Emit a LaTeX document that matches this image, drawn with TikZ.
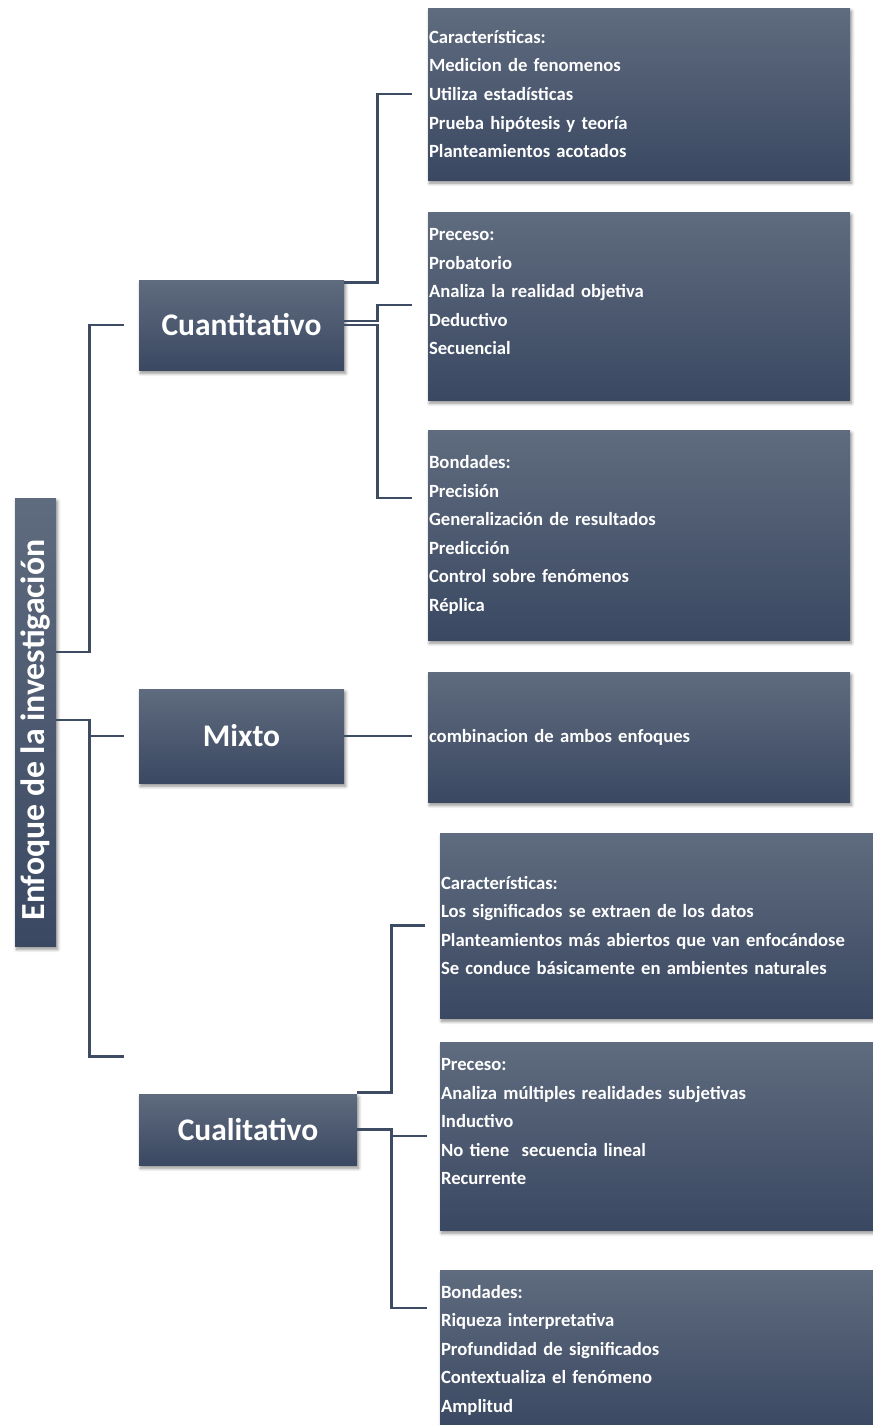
\documentclass[tikz,border=0pt]{standalone}
\usepackage{fontspec}
\setmainfont{Carlito}
\usetikzlibrary{calc,shadows.blur}

\definecolor{boxtop}{RGB}{95,107,126}
\definecolor{boxbot}{RGB}{58,72,98}
\definecolor{linkc}{RGB}{61,75,99}

\begin{document}
\begin{tikzpicture}[x=0.75pt,y=-0.75pt,
  box/.style={rectangle, top color=boxtop, bottom color=boxbot, text=white,
    blur shadow={shadow xshift=1.2pt, shadow yshift=-2.4pt, shadow blur radius=2.4pt,
      shadow blur steps=6, shadow opacity=45}},
  rootbox/.style={box, inner sep=0pt, minimum width=30.75pt, minimum height=336pt,
    font=\fontsize{25.3}{28}\selectfont\bfseries},
  headbox/.style={box, minimum width=153.75pt, font=\fontsize{23.6}{28}\selectfont\bfseries},
  infobox/.style={box, align=left, inner xsep=0.75pt, text width=#1,
    font=\fontsize{14}{21.4}\selectfont\bfseries},
  link/.style={draw=linkc, line width=1.9pt}]
  \useasboundingbox (0,0) rectangle (872,1425);

  % main boxes
  \node[rootbox] (root) at (35.5,722) {\rotatebox{90}{Enfoque de la investigación\kern12pt}};
  \node[headbox, minimum height=67.5pt] (cuan) at (241.5,325) {Cuantitativo};
  \node[headbox, minimum height=70.5pt] (mixto) at (241.5,736) {Mixto};
  \node[headbox, minimum width=163.5pt, minimum height=53.25pt] (cual) at (248,1129.5) {Cualitativo};

  % cuantitativo
  \node[infobox=315pt, minimum height=129pt] (q1) at (639,94)
    {Características:\\ Medicion de fenomenos\\ Utiliza estadísticas\\ Prueba hipótesis y teoría\\ Planteamientos acotados};
  \node[infobox=315pt, minimum height=141pt] (q2) at (639,306)
    {Preceso:\\ Probatorio\\ Analiza la realidad objetiva\\ Deductivo\\ Secuencial\\ \mbox{}};
  \node[infobox=315pt, minimum height=157.5pt] (q3) at (639,535)
    {Bondades:\\ Precisión\\ Generalización de resultados\\ Predicción\\ Control sobre fenómenos\\ Réplica};

  % mixto
  \node[infobox=315pt, minimum height=97.5pt] (m1) at (639,737) {combinacion de ambos enfoques};

  % cualitativo
  \node[infobox=327pt, minimum height=138.75pt] (c1) at (659,925.5)
    {Características:\\ Los significados se extraen de los datos\\ Planteamientos más abiertos que van enfocándose\\ Se conduce básicamente en ambientes naturales};
  \node[infobox=327pt, minimum height=141pt] (c2) at (659,1136)
    {Preceso:\\ Analiza múltiples realidades subjetivas\\ Inductivo\\ No tiene~ secuencia lineal\\ Recurrente\\ \mbox{}};
  \node[infobox=327pt, minimum height=120pt] (c3) at (659,1350)
    {Bondades:\\ Riqueza interpretativa\\ Profundidad de significados\\ Contextualiza el fenómeno\\ Amplitud};

  % links from the root
  \draw[link] ($(root.east)+(0,-70)$) -| ($(cuan.west)+(-49,0)$) -- ($(cuan.west)+(-15,0)$);
  \draw[link] ($(root.east)+(0,-2)$) -| ($(mixto.west)+(-49,0)$) -- ($(mixto.west)+(-15,0)$);
  \draw[link] ($(mixto.west)+(-49,0)$) |- ($(cual.north west)+(-15,-37)$);

  % links to the details
  \draw[link] ($(cuan.north east)+(0,3)$) -| ($(q1.west)+(-50,0)$) -- ($(q1.west)+(-16,0)$);
  \draw[link] ($(cuan.east)+(0,-4)$) -| ($(q2.west)+(-50,-1)$) -- ($(q2.west)+(-16,-1)$);
  \draw[link] (cuan.east) -| ($(q3.west)+(-50,-37)$) -- ($(q3.west)+(-16,-37)$);
  \draw[link] (mixto.east) -- ($(mixto.east -| m1.west)+(-16,0)$);
  \draw[link] ($(cual.north east)+(0,-1)$) -| ($(c1.west)+(-48,0)$) -- ($(c1.west)+(-15,0)$);
  \draw[link] (cual.east) -| ($(c2.west)+(-48,0)$) -- ($(c2.west)+(-13,0)$);
  \draw[link] (cual.east) -| ($(c3.west)+(-48,-42)$) -- ($(c3.west)+(-13,-42)$);
\end{tikzpicture}
\end{document}
